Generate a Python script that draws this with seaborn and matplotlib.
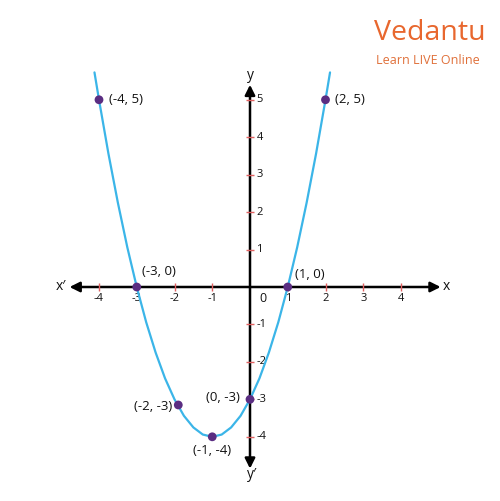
import matplotlib
matplotlib.use("Agg")
import matplotlib.pyplot as plt
import seaborn as sns
import pandas as pd

# curve y = x^2 + 2x - 3
curve_x = [-4.12, -4.0, -3.75, -3.5, -3.25, -3.0, -2.75, -2.5, -2.25, -2.0, -1.75, -1.5, -1.25,
           -1.0, -0.75, -0.5, -0.25, 0.0, 0.25, 0.5, 0.75, 1.0, 1.25, 1.5, 1.75, 2.0, 2.12]
curve_y = [5.73, 5.0, 3.56, 2.25, 1.06, 0.0, -0.94, -1.75, -2.44, -3.0, -3.44, -3.75, -3.94,
           -4.0, -3.94, -3.75, -3.44, -3.0, -2.44, -1.75, -0.94, 0.0, 1.06, 2.25, 3.56, 5.0, 5.73]

# marked points and their labels
pt_x = [-4, -3, -1.9, -1, 0, 1, 2]
pt_y = [5, 0, -3.15, -4, -3, 0, 5]
pt_labels = ["(-4, 5)", "(-3, 0)", "(-2, -3)", "(-1, -4)", "(0, -3)", "(1, 0)", "(2, 5)"]

x_ticks = [-4, -3, -2, -1, 1, 2, 3, 4]
y_ticks = [-4, -3, -2, -1, 1, 2, 3, 4, 5]

sns.set_style("white")
plt.rcParams['font.family'] = ['Open Sans', 'DejaVu Sans']

fig = plt.figure(figsize=(5, 5.01), dpi=100)
ax = fig.add_axes([0, 0, 1, 1])
ax.set_xlim(-250 / 37.75, 250 / 37.75)
ax.set_ylim(-214 / 37.45, 287 / 37.45)
ax.axis("off")

# axes with arrows on both ends
arrow = dict(arrowstyle="<|-|>", color="black", lw=1.8, mutation_scale=15, shrinkA=0, shrinkB=0)
ax.annotate("", xy=(5.05, 0), xytext=(-4.78, 0), arrowprops=arrow)
ax.annotate("", xy=(0, 5.4), xytext=(0, -4.85), arrowprops=arrow)

# small red tick marks
ax.scatter(x_ticks, [0] * len(x_ticks), marker="|", s=30, color="#e06060", linewidths=1, zorder=3)
ax.scatter([0] * len(y_ticks), y_ticks, marker="_", s=30, color="#e06060", linewidths=1, zorder=3)

for t in x_ticks:
    ax.text(t, -0.3, str(t), ha="center", va="center", fontsize=8, color="#111111")
for t in y_ticks:
    ax.text(0.17, t, str(t), ha="left", va="center", fontsize=8, color="#111111")
ax.text(0.33, -0.3, "0", ha="center", va="center", fontsize=9, color="#111111")

ax.text(5.2, 0.02, "x", ha="center", va="center", fontsize=10, color="#111111")
ax.text(-5.0, 0.02, "x′", ha="center", va="center", fontsize=10, color="#111111")
ax.text(0.0, 5.65, "y", ha="center", va="center", fontsize=10, color="#111111")
ax.text(0.05, -5.0, "y′", ha="center", va="center", fontsize=10, color="#111111")

df_curve = pd.DataFrame({"x": curve_x, "y": curve_y})
sns.lineplot(data=df_curve, x="x", y="y", sort=False, color="#3bb5e8", lw=1.6, ax=ax, zorder=4)

df_pts = pd.DataFrame({"x": pt_x, "y": pt_y})
sns.scatterplot(data=df_pts, x="x", y="y", color="#5a2d82", s=40, edgecolor="none", ax=ax, zorder=5)

# label placement offsets (points)
offsets = [(7, 0, "left"), (4, 11, "left"), (-4, -1, "right"), (0, -10, "center"),
           (-7, 1, "right"), (5, 9, "left"), (7, 0, "left")]
for x, y, lab, (dx, dy, ha) in zip(pt_x, pt_y, pt_labels, offsets):
    ax.annotate(lab, (x, y), xytext=(dx, dy), textcoords="offset points",
                ha=ha, va="center", fontsize=9.5, color="#111111")

# logo
fig.text(0.749, 0.935, "Vedantu", ha="left", va="center", fontsize=20.5, color="#e8672e",
         fontweight="medium")
fig.text(0.751, 0.88, "Learn LIVE Online", ha="left", va="center", fontsize=9, color="#e0703a")

fig.savefig("out.png", dpi=100)
